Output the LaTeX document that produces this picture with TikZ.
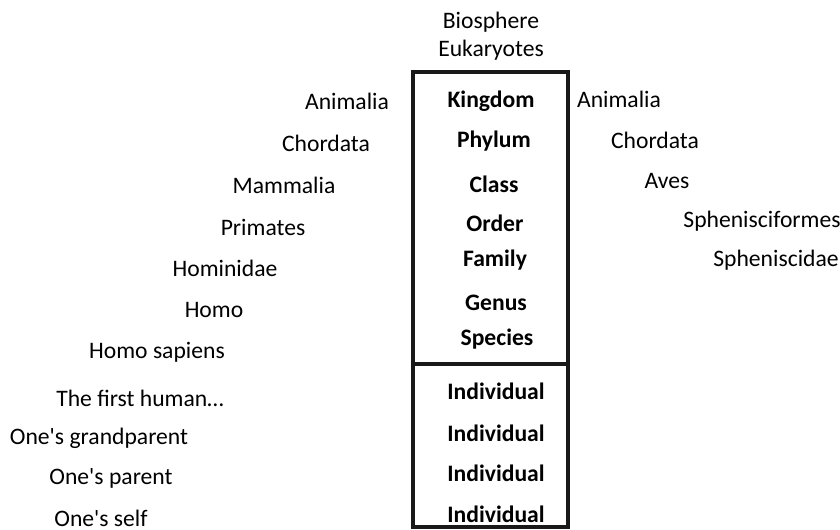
\documentclass[tikz,border=0pt]{standalone}
\usepackage{fontspec}
\setmainfont{Carlito}
\usetikzlibrary{positioning}

\tikzset{
  taxon/.style={inner sep=0pt, font=\fontsize{16.8}{19}\selectfont},
  rank/.style={taxon, font=\fontsize{16.8}{19}\selectfont\bfseries},
  frame/.style={line width=2.6pt, draw=black!90}
}

\begin{document}
\begin{tikzpicture}[x=0.025cm, y=-0.025cm]
  \useasboundingbox (0,0) rectangle (840,530);

  % Oben
  \node[taxon] (bio) at (491,22) {Biosphere};
  \node[taxon] (euk) at (491,50) {Eukaryotes};

  % Rahmen
  \coordinate (tl) at (413,72);
  \coordinate (br) at (568,527);
  \coordinate (ml) at (413,364);
  \coordinate (mr) at (568,364);
  \draw[frame] (tl) rectangle (br);
  \draw[frame] (ml) -- (mr);

  % Rangstufen
  \node[rank] (kingdom) at (491,101) {Kingdom};
  \node[rank] (phylum)  at (494,141) {Phylum};
  \node[rank] (class)   at (494,184) {Class};
  \node[rank] (order)   at (495,223) {Order};
  \node[rank] (family)  at (495,260) {Family};
  \node[rank] (genus)   at (496,303) {Genus};
  \node[rank] (species) at (497,339) {Species};
  \foreach \y [count=\i] in {391,433,473,514}
    \node[rank] (ind\i) at (496,\y) {Individual};

  % Mensch
  \node[taxon] (hAnim)  at (347,101) {Animalia};
  \node[taxon] (hChord) at (326,143) {Chordata};
  \node[taxon] (hMamm)  at (284,185) {Mammalia};
  \node[taxon] (hPrim)  at (263,227) {Primates};
  \node[taxon] (hHomd)  at (225,268) {Hominidae};
  \node[taxon] (hHomo)  at (214,310) {Homo};
  \node[taxon] (hSap)   at (157,352) {Homo sapiens};
  \node[taxon] (hFirst) at (140,398) {The first human\dots};
  \node[taxon] (hGrand) at (99,438)  {One\textquotesingle s grandparent};
  \node[taxon] (hPar)   at (111,478) {One\textquotesingle s parent};
  \node[taxon] (hSelf)  at (101,518) {One\textquotesingle s self};

  % Pinguin
  \node[taxon] (pAnim)  at (619,99)  {Animalia};
  \node[taxon] (pChord) at (655,140) {Chordata};
  \node[taxon] (pAves)  at (667,181) {Aves};
  \node[taxon] (pSphf)  at (762,221) {Sphenisciformes};
  \node[taxon] (pSphd)  at (776,260) {Spheniscidae};
\end{tikzpicture}
\end{document}
